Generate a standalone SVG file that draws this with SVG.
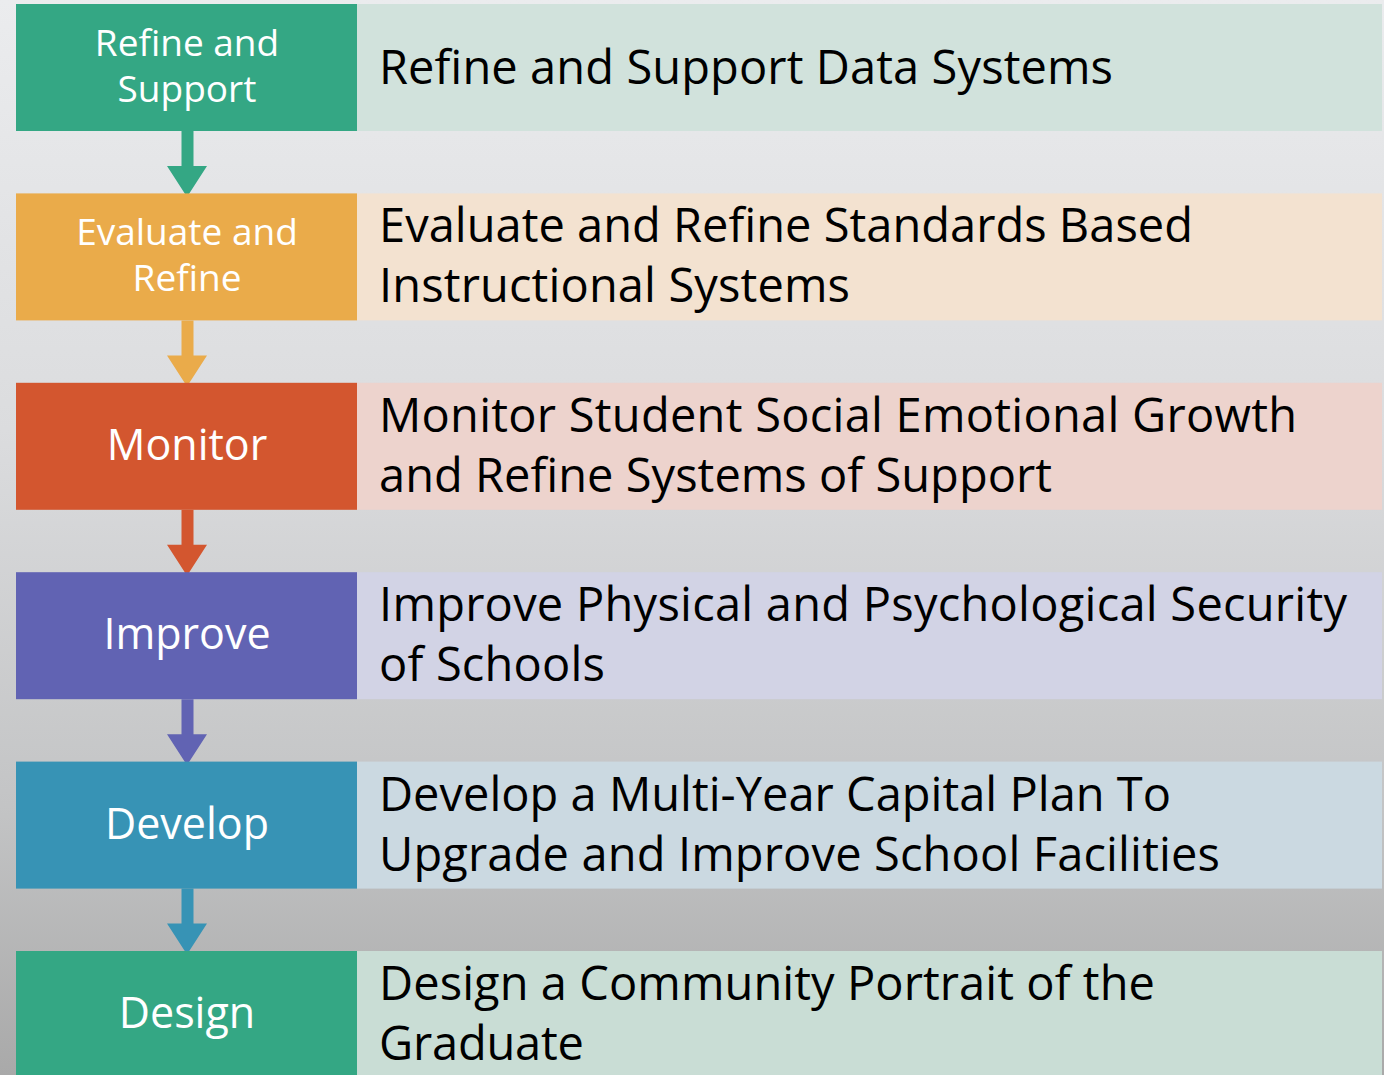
<svg xmlns="http://www.w3.org/2000/svg" width="1384" height="1075" viewBox="0 0 1384 1075">
  <defs>
    <linearGradient id="bg" x1="0" y1="0" x2="0" y2="1">
      <stop offset="0" stop-color="#ebecee"/>
      <stop offset="0.4" stop-color="#dbdcde"/>
      <stop offset="0.75" stop-color="#c3c4c5"/>
      <stop offset="1" stop-color="#a9a9a9"/>
    </linearGradient>
    <style>
      .lbl { font-family: "Open Sans", "Liberation Sans", sans-serif; fill: #ffffff; text-anchor: middle; }
      .desc { font-family: "Open Sans", "Liberation Sans", sans-serif; fill: #000000; font-size: 47px; }
    </style>
  </defs>

  <rect x="0" y="0" width="1384" height="1075" fill="url(#bg)"/>

  <!-- step connectors: shaft + arrowhead below each left box -->
  <g id="connectors">
    <path d="M181.5 131 H193.5 V166 H207 L187 197 L167 166 H181.5 Z" fill="#34a784"/>
    <path d="M181.5 320.4 H193.5 V355.4 H207 L187 386.4 L167 355.4 H181.5 Z" fill="#eaab4a"/>
    <path d="M181.5 509.8 H193.5 V544.8 H207 L187 575.8 L167 544.8 H181.5 Z" fill="#d3562f"/>
    <path d="M181.5 699.2 H193.5 V734.2 H207 L187 765.2 L167 734.2 H181.5 Z" fill="#6163b3"/>
    <path d="M181.5 888.6 H193.5 V923.6 H207 L187 954.6 L167 923.6 H181.5 Z" fill="#3793b5"/>
  </g>

  <g id="step-refine-support">
    <rect x="16" y="4" width="341" height="127" fill="#34a784"/>
    <rect x="357" y="4" width="1025" height="127" fill="#d1e2dc"/>
    <text class="lbl" font-size="37"><tspan x="187" y="56">Refine and</tspan><tspan x="187" y="102">Support</tspan></text>
    <text class="desc" x="379" y="84" textLength="734">Refine and Support Data Systems</text>
  </g>

  <g id="step-evaluate-refine">
    <rect x="16" y="193.4" width="341" height="127" fill="#eaab4a"/>
    <rect x="357" y="193.4" width="1025" height="127" fill="#f3e2d0"/>
    <text class="lbl" font-size="37"><tspan x="187" y="245.4">Evaluate and</tspan><tspan x="187" y="291.4">Refine</tspan></text>
    <text class="desc"><tspan x="379" y="242.4" textLength="814">Evaluate and Refine Standards Based</tspan><tspan x="379" y="302.4" textLength="471">Instructional Systems</tspan></text>
  </g>

  <g id="step-monitor">
    <rect x="16" y="382.8" width="341" height="127" fill="#d3562f"/>
    <rect x="357" y="382.8" width="1025" height="127" fill="#edd3cd"/>
    <text class="lbl" x="187" y="460" font-size="43">Monitor</text>
    <text class="desc"><tspan x="379" y="431.8" textLength="918">Monitor Student Social Emotional Growth</tspan><tspan x="379" y="491.8" textLength="673">and Refine Systems of Support</tspan></text>
  </g>

  <g id="step-improve">
    <rect x="16" y="572.2" width="341" height="127" fill="#6163b3"/>
    <rect x="357" y="572.2" width="1025" height="127" fill="#d2d3e5"/>
    <text class="lbl" x="187" y="649.4" font-size="43">Improve</text>
    <text class="desc"><tspan x="379" y="621.2" textLength="968">Improve Physical and Psychological Security</tspan><tspan x="379" y="681.2" textLength="226">of Schools</tspan></text>
  </g>

  <g id="step-develop">
    <rect x="16" y="761.6" width="341" height="127" fill="#3793b5"/>
    <rect x="357" y="761.6" width="1025" height="127" fill="#cbd9e1"/>
    <text class="lbl" x="187" y="838.8" font-size="43">Develop</text>
    <text class="desc"><tspan x="379" y="810.6" textLength="792">Develop a Multi-Year Capital Plan To</tspan><tspan x="379" y="870.6" textLength="841">Upgrade and Improve School Facilities</tspan></text>
  </g>

  <g id="step-design">
    <rect x="16" y="951" width="341" height="127" fill="#34a784"/>
    <rect x="357" y="951" width="1025" height="127" fill="#c9ddd5"/>
    <text class="lbl" x="187" y="1028.2" font-size="43">Design</text>
    <text class="desc"><tspan x="379" y="1000" textLength="776">Design a Community Portrait of the</tspan><tspan x="379" y="1060" textLength="205">Graduate</tspan></text>
  </g>
</svg>
